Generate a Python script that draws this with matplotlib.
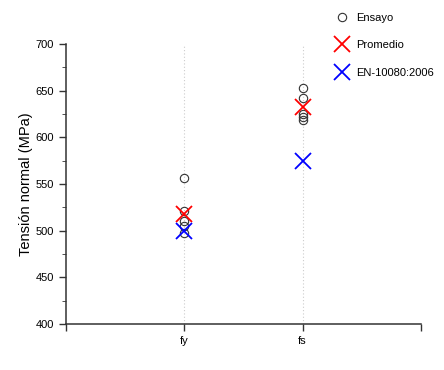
import numpy as np
import matplotlib.pyplot as plt
from matplotlib.ticker import MultipleLocator

plt.rcParams['font.family'] = ['Liberation Sans', 'DejaVu Sans']

# ---------------- data ----------------
categories = ["fy", "fs"]
ensayo_fy = [556, 521, 510, 505, 498]
ensayo_fs = [653, 642, 625, 622, 619]
promedio = [518, 632]
norma = [500, 575]
# --------------------------------------

pos = np.arange(1, len(categories) + 1)

fig = plt.figure(figsize=(4.44, 3.70), dpi=100)
ax = fig.add_axes([0.1486, 0.1243, 0.7995, 0.7568])

for x in pos:
    ax.axvline(x, color="#cccccc", ls=(0, (1, 2)), lw=0.8, zorder=0)

for x, vals in zip(pos, [ensayo_fy, ensayo_fs]):
    ax.plot([x] * len(vals), vals, 'o', mfc='none', mec='#333333', mew=0.8, ms=6,
            ls='none', label="Ensayo" if x == 1 else None, zorder=2)
ax.plot(pos, promedio, 'x', color='red', ms=11, mew=1.3, ls='none', label="Promedio", zorder=3)
ax.plot(pos, norma, 'x', color='blue', ms=11, mew=1.3, ls='none', label="EN-10080:2006", zorder=3)

ax.set_xlim(0, 3)
ax.set_ylim(400, 700)
ax.set_xticks([0, 1, 2, 3])
ax.set_xticklabels(["", "fy", "fs", ""])
ax.yaxis.set_major_locator(MultipleLocator(50))
ax.yaxis.set_minor_locator(MultipleLocator(25))
ax.tick_params(axis='both', direction='out', labelsize=8, width=1.0, color='#333333', length=5)
ax.tick_params(axis='y', which='minor', direction='out', length=3, color='#333333')
ax.spines['top'].set_visible(False)
ax.spines['right'].set_visible(False)
for s in ('left', 'bottom'):
    ax.spines[s].set_linewidth(1.1)
    ax.spines[s].set_color('#333333')

ax.set_ylabel("Tensión normal (MPa)", fontsize=10.5, labelpad=2)

fig.legend(loc='upper left', bbox_to_anchor=(0.745, 0.978), frameon=False, fontsize=8,
           handletextpad=0.7, labelspacing=1.6, handlelength=1.2, borderaxespad=0)

fig.savefig("out.png", dpi=100)
